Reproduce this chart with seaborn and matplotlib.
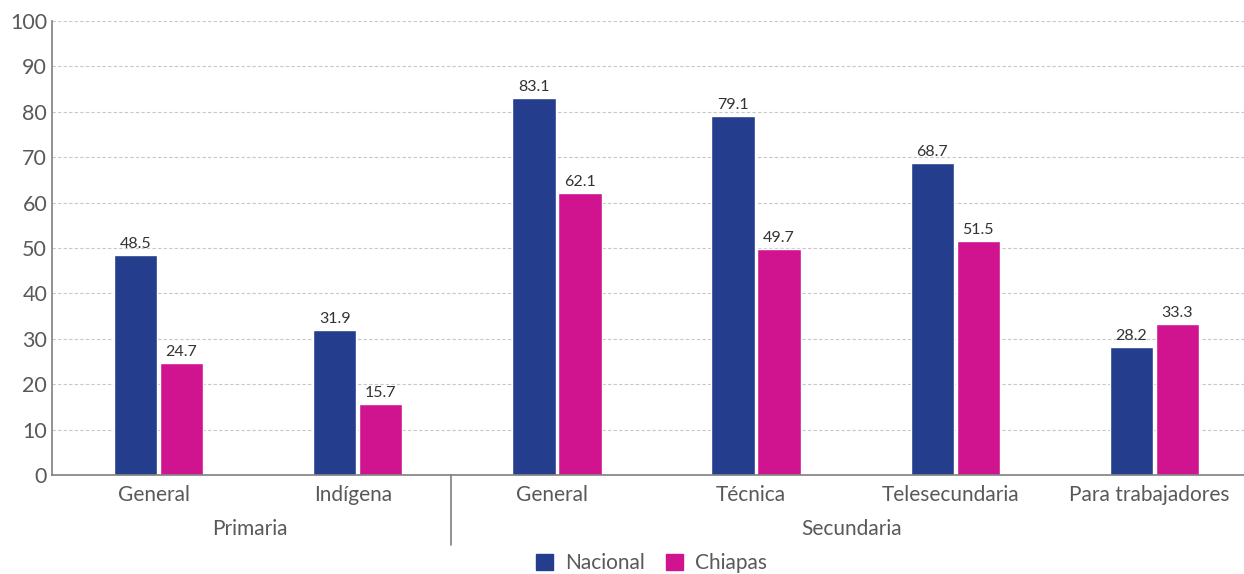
import numpy as np
import pandas as pd
import seaborn as sns
import matplotlib.pyplot as plt
import matplotlib.transforms as mtransforms
from matplotlib.lines import Line2D

niveles = ["Primaria", "Primaria", "Secundaria", "Secundaria", "Secundaria", "Secundaria"]
tipos = ["General", "Indígena", "General", "Técnica", "Telesecundaria", "Para trabajadores"]
nacional = [48.5, 31.9, 83.1, 79.1, 68.7, 28.2]
chiapas = [24.7, 15.7, 62.1, 49.7, 51.5, 33.3]
series = ["Nacional", "Chiapas"]
colores = ["#243D8C", "#D0138E"]

keys = [f"{n} {t}" for n, t in zip(niveles, tipos)]
df = pd.DataFrame({
    "cat": keys * 2,
    "serie": ["Nacional"] * 6 + ["Chiapas"] * 6,
    "valor": nacional + chiapas,
})

sns.set_theme(style="white")
plt.rcParams["font.family"] = ["Lato", "DejaVu Sans"]

fig = plt.figure(figsize=(12.44, 5.74), dpi=100)
ax = fig.add_axes([52 / 1244, 1 - 475 / 574, 1 - 52 / 1244, (475 - 21) / 574])

sns.barplot(data=df, x="cat", y="valor", hue="serie", order=keys, hue_order=series,
            palette=colores, width=0.462, gap=0.06, saturation=1, ax=ax, legend=False)

for cont in ax.containers:
    ax.bar_label(cont, fmt="%.1f", padding=3, fontsize=11.5, color="#333333")

ax.set_xlim(-0.535, 5.45)
ax.set_ylim(0, 100)
ax.set_yticks(range(0, 101, 10))
ax.set_xticks(range(6))
ax.set_xticklabels(tipos)
ax.set_xlabel("")
ax.set_ylabel("")
ax.tick_params(axis="both", length=0, labelsize=15, labelcolor="#595959")
ax.tick_params(axis="y", labelsize=15.5)
ax.tick_params(axis="x", pad=7)
shift = mtransforms.ScaledTranslation(-5 / 100, 0, fig.dpi_scale_trans)
for lab in ax.get_xticklabels():
    lab.set_transform(lab.get_transform() + shift)
ax.yaxis.grid(True, linestyle=(0, (3, 2)), color="#c8c8c8", linewidth=0.8)
ax.set_axisbelow(True)
for s in ["top", "right"]:
    ax.spines[s].set_visible(False)
for s in ["left", "bottom"]:
    ax.spines[s].set_color("#7f7f7f")
    ax.spines[s].set_linewidth(1.2)

trans = mtransforms.blended_transform_factory(ax.transData, ax.transAxes)
ax.text(0.46, -0.12, "Primaria", transform=trans, ha="center", va="center",
        fontsize=15, color="#595959")
ax.text(3.48, -0.12, "Secundaria", transform=trans, ha="center", va="center",
        fontsize=15, color="#595959")
ax.add_line(Line2D([1.47, 1.47], [0, -0.155], transform=trans, color="#7f7f7f",
                   linewidth=1.2, clip_on=False))

handles = [plt.Rectangle((0, 0), 1, 1, color=c) for c in colores]
fig.legend(handles, series, loc="center", bbox_to_anchor=(0.524, 0.019), ncol=2,
           frameon=False, fontsize=15, handlelength=0.8, handleheight=0.8,
           columnspacing=1.0, handletextpad=0.6, labelcolor="#595959")

fig.savefig("out.png", dpi=100)
